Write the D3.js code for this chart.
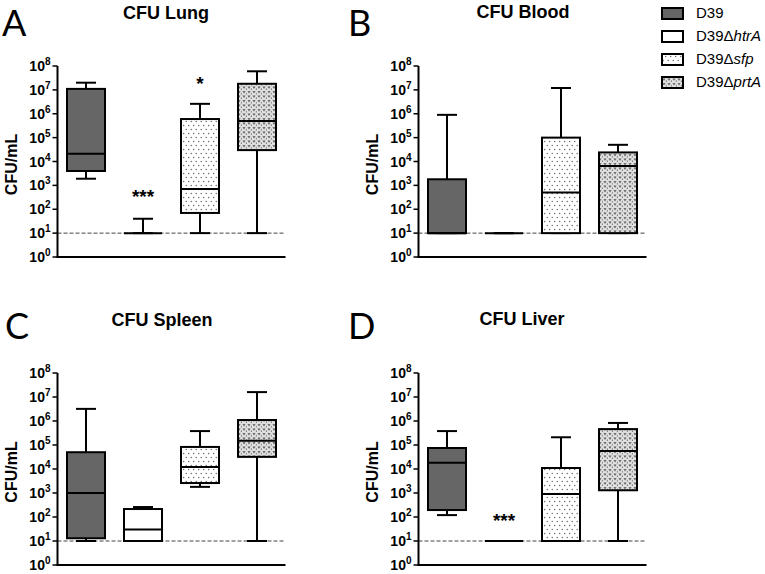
<!DOCTYPE html>
<html lang="en">
<head>
    <meta charset="utf-8">
    <title>CFU by organ</title>
    <script src="https://d3js.org/d3.v7.min.js"></script>
    <style>
        body {
            margin: 0;
            background: #fff;
            font-family: Arial, "Liberation Sans", sans-serif;
        }
        .tick-label { font-weight: bold; font-size: 14px; }
        .axis-title { font-weight: bold; font-size: 16px; }
        .panel-title { font-weight: bold; font-size: 18px; }
        .panel-letter { font-family: Lato, "Open Sans", sans-serif; font-size: 36px; }
        .legend-text { font-size: 15px; }
        .stars { font-weight: bold; font-size: 19px; }
    </style>
</head>
<body>
    <svg id="chart" width="765" height="574"></svg>

    <script>
        // groups and fills
        const groups = ["D39", "htrA", "sfp", "prtA"];
        const legendLabels = [["D39", ""], ["D39\u0394", "htrA"], ["D39\u0394", "sfp"], ["D39\u0394", "prtA"]];

        // panel titles / letters
        const letters = ["A", "B", "C", "D"];
        const titles = ["CFU Lung", "CFU Blood", "CFU Spleen", "CFU Liver"];

        // y ticks (log10 exponents)
        const tickExps = [0, 1, 2, 3, 4, 5, 6, 7, 8];
        const detectionLimit = 10;

        // box stats per group: [min, q1, median, q3, max]
        const lungStats = [
            [1.9e3, 4e3, 2.1e4, 1.1e7, 2e7],
            [10, 10, 10, 10, 40],
            [10, 70, 700, 6e5, 2.6e6],
            [10, 3e4, 5e5, 1.8e7, 6e7]
        ];
        const bloodStats = [
            [10, 10, 10, 1.8e3, 9e5],
            [10, 10, 10, 10, 10],
            [10, 10, 500, 1e5, 1.2e7],
            [10, 10, 6.5e3, 2.4e4, 5e4]
        ];
        const spleenStats = [
            [10, 13, 1e3, 5e4, 3.2e6],
            [10, 10, 30, 215, 260],
            [1.8e3, 2.6e3, 1.2e4, 8.3e4, 3.8e5],
            [10, 3.2e4, 1.5e5, 1.1e6, 1.6e7]
        ];
        const liverStats = [
            [120, 195, 1.8e4, 7.5e4, 3.8e5],
            [10, 10, 10, 10, 10],
            [10, 10, 900, 1.1e4, 2.1e5],
            [10, 1.3e3, 5.6e4, 4.6e5, 8.3e5]
        ];

        // significance marks: [group, text, value where centred]
        const lungMarks = [["htrA", "***", 500], ["sfp", "*", 2.5e7]];
        const liverMarks = [["htrA", "***", 100]];

        const panels = [
            { stats: lungStats, marks: lungMarks, ax: 57.5, top: 66, bottom: 257, tx: 166, ty: 19, lx: 2, ly: 36 },
            { stats: bloodStats, marks: [], ax: 418.5, top: 66, bottom: 257, tx: 523, ty: 18, lx: 348, ly: 36 },
            { stats: spleenStats, marks: [], ax: 57.5, top: 373, bottom: 565, tx: 162, ty: 326, lx: 5, ly: 339 },
            { stats: liverStats, marks: liverMarks, ax: 418.5, top: 373, bottom: 565, tx: 522, ty: 325, lx: 348, ly: 339 }
        ];

        const svg = d3.select("#chart");
        const defs = svg.append("defs");

        // sparse dot pattern
        const dots = defs.append("pattern").attr("id", "dots")
            .attr("patternUnits", "userSpaceOnUse").attr("width", 5).attr("height", 8);
        dots.append("rect").attr("width", 5).attr("height", 8).attr("fill", "#fff");
        dots.append("circle").attr("cx", 1.2).attr("cy", 1.5).attr("r", 0.65).attr("fill", "#555");
        dots.append("circle").attr("cx", 3.7).attr("cy", 5.5).attr("r", 0.65).attr("fill", "#555");

        // dense "heart" pattern
        const hearts = defs.append("pattern").attr("id", "hearts")
            .attr("patternUnits", "userSpaceOnUse").attr("width", 5).attr("height", 4.5);
        hearts.append("rect").attr("width", 5).attr("height", 4.5).attr("fill", "#e4e4e4");
        hearts.append("path").attr("d", "M0.3,0.7 L2,1.3 L3.7,0.7 L2,3.4 Z").attr("fill", "#444");
        hearts.append("circle").attr("cx", 4.4).attr("cy", 3.7).attr("r", 0.7).attr("fill", "#666");

        const fills = ["#666", "#fff", "url(#dots)", "url(#hearts)"];

        panels.forEach((p, pi) => {
            const g = svg.append("g");
            const y = d3.scaleLog().domain([1, 1e8]).range([p.bottom, p.top]);
            const x = d3.scaleBand().domain(groups)
                .range([p.ax, p.ax + 228]).paddingInner(1 / 3).paddingOuter(1 / 6);
            const bw = x.bandwidth();

            // panel letter + title
            g.append("text").attr("class", "panel-letter").attr("x", p.lx).attr("y", p.ly).text(letters[pi]);
            g.append("text").attr("class", "panel-title").attr("x", p.tx).attr("y", p.ty)
                .attr("text-anchor", "middle").text(titles[pi]);

            // detection limit
            g.append("line")
                .attr("x1", p.ax).attr("x2", p.ax + 226)
                .attr("y1", y(detectionLimit)).attr("y2", y(detectionLimit))
                .attr("stroke", "#444").attr("stroke-width", 1).attr("stroke-dasharray", "4,2");

            // boxes
            const box = g.selectAll(".box").data(p.stats).join("g").attr("class", "box")
                .attr("transform", (d, i) => `translate(${x(groups[i]) + bw / 2},0)`);

            box.append("line")
                .attr("y1", d => y(d[0])).attr("y2", d => y(d[4]))
                .attr("stroke", "#000").attr("stroke-width", 2);
            box.selectAll(".cap").data(d => [d[0], d[4]]).join("line")
                .attr("class", "cap")
                .attr("x1", -10).attr("x2", 10)
                .attr("y1", v => y(v)).attr("y2", v => y(v))
                .attr("stroke", "#000").attr("stroke-width", 2);
            box.append("rect")
                .attr("x", -bw / 2).attr("width", bw)
                .attr("y", d => y(d[3])).attr("height", d => y(d[1]) - y(d[3]))
                .attr("fill", (d, i) => fills[i])
                .attr("stroke", "#000").attr("stroke-width", 2);
            box.append("line")
                .attr("x1", -bw / 2).attr("x2", bw / 2)
                .attr("y1", d => y(d[2])).attr("y2", d => y(d[2]))
                .attr("stroke", "#000").attr("stroke-width", 2);

            // significance stars
            g.selectAll(".stars").data(p.marks).join("text")
                .attr("class", "stars")
                .attr("x", d => x(d[0]) + bw / 2)
                .attr("y", d => y(d[2]) + 10)
                .attr("text-anchor", "middle")
                .text(d => d[1]);

            // axes
            g.append("line").attr("x1", p.ax).attr("x2", p.ax).attr("y1", p.top).attr("y2", p.bottom)
                .attr("stroke", "#000").attr("stroke-width", 2);
            g.append("line").attr("x1", p.ax - 1).attr("x2", p.ax + 228).attr("y1", p.bottom).attr("y2", p.bottom)
                .attr("stroke", "#000").attr("stroke-width", 2);

            const ticks = g.selectAll(".tick").data(tickExps).join("g").attr("class", "tick")
                .attr("transform", e => `translate(${p.ax},${y(Math.pow(10, e))})`);
            ticks.append("line").attr("x1", -5).attr("x2", 0).attr("stroke", "#000").attr("stroke-width", 1.5);
            const tl = ticks.append("text").attr("class", "tick-label")
                .attr("x", -7).attr("y", 5).attr("text-anchor", "end");
            tl.append("tspan").text("10");
            tl.append("tspan").attr("font-size", "10px").attr("dy", -6).text(e => e);

            // y axis title
            g.append("text").attr("class", "axis-title")
                .attr("transform", `translate(${p.ax - 41},${(p.top + p.bottom) / 2 + 3}) rotate(-90)`)
                .attr("text-anchor", "middle").text("CFU/mL");
        });

        // legend
        const legend = svg.append("g").attr("transform", "translate(662,13)");
        const item = legend.selectAll("g").data(groups).join("g")
            .attr("transform", (d, i) => `translate(0,${i * 23})`);
        item.append("rect").attr("x", 0).attr("y", -5).attr("width", 21).attr("height", 11)
            .attr("fill", (d, i) => fills[i]).attr("stroke", "#000").attr("stroke-width", 2);
        const lt = item.append("text").attr("class", "legend-text").attr("x", 34).attr("y", 5);
        lt.append("tspan").text((d, i) => legendLabels[i][0]);
        lt.append("tspan").attr("font-style", "italic").text((d, i) => legendLabels[i][1]);
    </script>
</body>
</html>
